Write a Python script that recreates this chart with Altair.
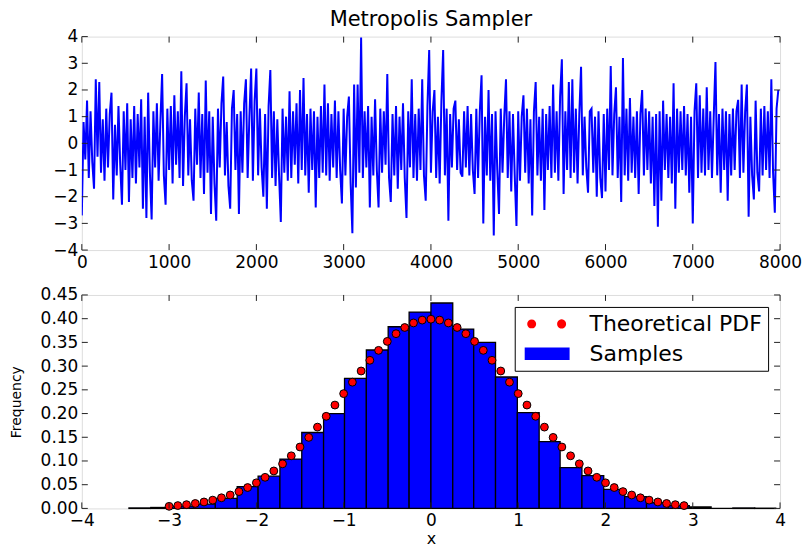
import altair as alt
import pandas as pd

W, H = 700, 214
FONT = "DejaVu Sans"

# ---------------- data ----------------
# Metropolis trace, one value read every 20 iterations
trace_step = 20
trace_values = [
    -2.7, 0.8, -0.6, 1.6, -1.3, 1.2, -0.7, -1.7, 2.4, -0.5,
    2.3, -1.1, 0.9, -1.4, 1.3, -0.9, 1.1, 1.9, -2.1, 0.7,
    -1.2, 1.4, -0.8, -2.3, 1.2, -1.0, 1.5, -2.2, 0.9, -1.3,
    1.4, -1.5, 1.1, -0.9, 1.65, -2.45, 1.0, -2.8, 1.9, -1.1,
    -2.85, 1.2, -0.9, 1.5, -1.4, 0.8, 2.6, -1.2, -2.3, 1.3,
    -1.0, 1.4, -1.5, 1.8, -0.8, 1.2, -1.3, 2.7, -1.6, 1.0,
    2.25, -1.2, 0.9, -1.4, -2.15, 1.3, -0.8, 1.9, -1.3, 1.1,
    -1.9, 2.35, -1.1, 1.2, -2.65, 1.0, -1.5, -2.9, 1.3, -0.9,
    1.5, 2.5, -1.2, 0.8, -1.6, -2.45, 1.3, 2.0, -1.0, 1.1,
    -2.65, 1.2, -1.1, 1.5, 2.4, -1.3, 1.0, 2.8, -1.4, 1.6,
    2.8, -1.2, 1.3, -0.9, -2.0, 1.1, -2.45, 1.4, 2.75, -1.3,
    1.2, -1.6, 0.9, -1.2, -2.95, 1.3, -1.1, 1.0, -1.4, 1.95,
    -1.3, 1.2, -0.8, 1.5, -1.5, 2.0, -1.0, 2.45, -1.2, 1.1,
    -1.85, 1.3, -1.0, 1.2, -2.4, 1.0, -1.3, 1.4, -1.1, 2.2,
    -1.2, 1.5, -1.4, 1.1, -0.9, 1.6, -1.3, 1.2, -1.0, -2.25,
    1.3, -1.2, 1.0, 1.75, -1.5, -3.37, 2.2, -1.65, 2.2, -1.1,
    3.97, -1.3, 1.2, -0.9, 1.4, -2.4, 1.0, -1.2, 1.65, -1.0,
    -2.4, 1.3, -1.1, 1.2, -0.8, 2.6, -1.3, -2.2, 1.1, -1.2,
    1.4, -1.7, 1.0, -1.0, 1.5, -1.3, -2.8, 1.2, -0.9, 2.4,
    -1.3, 1.1, -1.4, 1.3, -1.0, 2.4, -1.2, -2.15, 1.4, 3.5,
    -1.1, 1.2, 2.0, -1.3, 1.0, -1.5, 1.6, 3.5, -1.2, 1.3,
    -2.9, 1.1, -0.9, 1.3, 1.6, -1.0, 0.9, -1.1, -1.25, 1.2,
    -0.9, 1.4, -1.2, 1.1, -1.0, -1.9, 1.3, -1.3, 1.2, 2.55,
    -3.0, 1.0, -1.2, 2.0, -1.4, 1.1, -3.45, 1.2, -1.0, -2.65,
    1.3, -1.1, 1.0, 2.4, -1.3, 1.2, -1.8, 1.1, -1.2, -3.1,
    1.2, -1.4, 1.0, 1.8, -1.1, 1.3, -1.5, 0.9, -2.7, 1.2,
    2.3, -1.2, 1.0, -1.4, 1.3, -2.5, 1.1, -1.0, 1.4, -1.3,
    2.2, -1.1, 1.2, -1.4, 1.75, 3.15, -1.9, 1.2, -1.0, 2.3,
    -1.3, 2.4, -1.1, 1.3, -1.5, 1.1, 2.87, -1.2, 1.0, -0.9,
    -1.85, 1.2, 1.3, -1.1, 1.0, -2.0, 1.2, -1.3, -2.05, 1.1,
    -1.8, 1.3, -1.0, 2.9, -1.2, 1.1, 2.1, -1.3, 1.0, -2.2,
    3.2, -1.2, 1.3, -1.4, 1.7, -1.1, 1.0, -1.3, 1.2, -1.9,
    1.1, 2.0, -1.2, 1.3, -1.0, 1.2, -1.5, 1.0, -2.35, 1.1,
    -3.13, 1.2, -2.15, 1.6, -1.0, 1.1, -1.3, 1.0, -1.5, 2.25,
    -2.45, 1.3, -1.1, 1.2, -1.0, 1.4, -1.2, 1.1, -1.85, 1.0,
    -3.0, 1.2, 2.25, -1.3, 1.8, -1.1, 1.3, -1.2, 2.1, -1.0,
    1.2, -1.3, 1.0, 3.05, -1.2, 1.1, -1.85, 1.3, -1.0, 1.2,
    -2.15, 1.1, -1.2, 1.3, -1.0, 1.2, 1.63, -1.3, 2.2, -1.1,
    1.2, 2.2, -2.75, 1.0, -1.2, -2.1, 1.6, -1.1, -1.8, 1.3,
    -1.2, 1.4, -1.0, 1.2, -1.3, 2.4, -1.1, -2.6, 1.3, 2.0,
]
trace_x_ticks = [0, 1000, 2000, 3000, 4000, 5000, 6000, 7000, 8000]
trace_y_ticks = [-4, -3, -2, -1, 0, 1, 2, 3, 4]

# histogram (density) of the samples
bin_edges = [-3.46, -3.21, -2.96, -2.72, -2.47, -2.22, -1.98, -1.73, -1.48, -1.23,
             -0.99, -0.74, -0.49, -0.25, 0.00, 0.25, 0.49, 0.74, 0.99, 1.24,
             1.48, 1.73, 1.98, 2.22, 2.47, 2.72, 2.96, 3.21, 3.46, 3.71, 3.95]
bin_density = [0.001, 0.002, 0.005, 0.009, 0.021, 0.046, 0.068, 0.104, 0.160, 0.200,
               0.274, 0.334, 0.383, 0.414, 0.433, 0.378, 0.350, 0.277, 0.202, 0.141,
               0.086, 0.069, 0.040, 0.025, 0.012, 0.006, 0.003, 0.000, 0.001, 0.0005]

# theoretical pdf dots
pdf_x = [-3.0, -2.9, -2.8, -2.7, -2.6, -2.5, -2.4, -2.3, -2.2, -2.1,
         -2.0, -1.9, -1.8, -1.7, -1.6, -1.5, -1.4, -1.3, -1.2, -1.1,
         -1.0, -0.9, -0.8, -0.7, -0.6, -0.5, -0.4, -0.3, -0.2, -0.1,
         0.0, 0.1, 0.2, 0.3, 0.4, 0.5, 0.6, 0.7, 0.8, 0.9,
         1.0, 1.1, 1.2, 1.3, 1.4, 1.5, 1.6, 1.7, 1.8, 1.9,
         2.0, 2.1, 2.2, 2.3, 2.4, 2.5, 2.6, 2.7, 2.8, 2.9]
pdf_y = [0.0044, 0.0060, 0.0079, 0.0104, 0.0136, 0.0175, 0.0224, 0.0283, 0.0355, 0.0440,
         0.0540, 0.0656, 0.0790, 0.0940, 0.1109, 0.1295, 0.1497, 0.1714, 0.1942, 0.2179,
         0.2420, 0.2661, 0.2897, 0.3123, 0.3332, 0.3521, 0.3683, 0.3814, 0.3910, 0.3970,
         0.3989, 0.3970, 0.3910, 0.3814, 0.3683, 0.3521, 0.3332, 0.3123, 0.2897, 0.2661,
         0.2420, 0.2179, 0.1942, 0.1714, 0.1497, 0.1295, 0.1109, 0.0940, 0.0790, 0.0656,
         0.0540, 0.0440, 0.0355, 0.0283, 0.0224, 0.0175, 0.0136, 0.0104, 0.0079, 0.0060]
hist_x_ticks = [-4, -3, -2, -1, 0, 1, 2, 3, 4]
hist_y_ticks = [0.0, 0.05, 0.10, 0.15, 0.20, 0.25, 0.30, 0.35, 0.40, 0.45]
legend_labels = ["Theoretical PDF", "Samples"]

# ---------------- tables ----------------
trace_df = pd.DataFrame({"it": [i * trace_step for i in range(len(trace_values))],
                         "val": trace_values})
hist_df = pd.DataFrame({"x": bin_edges[:-1], "x2": bin_edges[1:], "y": bin_density})
pdf_df = pd.DataFrame({"x": pdf_x, "y": pdf_y})
legend_df = pd.DataFrame({"label": legend_labels})

TICK_COLOR = "#222222"
LBL = 17


def make_axis(values, fmt, title=None, title_size=16, title_pad=0):
    kw = dict(values=values, format=fmt, ticks=False, tickSize=0, domain=False, grid=False,
              labelFont=FONT, labelFontSize=LBL, labelColor="black",
              labelPadding=4, labelFlush=False, labelOverlap=False)
    if title is None:
        kw["title"] = None
    else:
        kw.update(title=title, titleFont=FONT, titleFontSize=title_size,
                  titleFontWeight="normal", titleColor="black", titlePadding=title_pad)
    return alt.Axis(**kw)


def inward_ticks(xfield, xticks, xscale, xaxis, yfield, yticks, yscale, yaxis):
    xdf = pd.DataFrame({xfield: xticks})
    ydf = pd.DataFrame({yfield: yticks})
    X = alt.X(f"{xfield}:Q", scale=xscale, axis=xaxis)
    Y = alt.Y(f"{yfield}:Q", scale=yscale, axis=yaxis)
    base = dict(color=TICK_COLOR, strokeWidth=1)
    return [
        alt.Chart(xdf).mark_rule(**base).encode(x=X, y=alt.value(H - 6), y2=alt.value(H)),
        alt.Chart(xdf).mark_rule(**base).encode(x=X, y=alt.value(0), y2=alt.value(6)),
        alt.Chart(ydf).mark_rule(**base).encode(y=Y, x=alt.value(0), x2=alt.value(6)),
        alt.Chart(ydf).mark_rule(**base).encode(y=Y, x=alt.value(W - 6), x2=alt.value(W)),
    ]


# ---------------- top: trace ----------------
tx_scale = alt.Scale(domain=[0, 8000], nice=False, zero=False)
ty_scale = alt.Scale(domain=[-4, 4], nice=False, zero=False)
tx_axis = make_axis(trace_x_ticks, "d")
ty_axis = make_axis(trace_y_ticks, "d")

trace_line = alt.Chart(trace_df).mark_line(color="#0000ff", strokeWidth=2.0, clip=True).encode(
    x=alt.X("it:Q", scale=tx_scale, axis=tx_axis),
    y=alt.Y("val:Q", scale=ty_scale, axis=ty_axis),
)
top = alt.layer(
    trace_line,
    *inward_ticks("it", trace_x_ticks, tx_scale, tx_axis, "val", trace_y_ticks, ty_scale, ty_axis),
).properties(
    width=W, height=H,
    title=alt.Title("Metropolis Sampler", font=FONT, fontSize=21, fontWeight="normal",
                    color="black", offset=-2.5, anchor="middle", frame="group"),
)

# ---------------- bottom: histogram ----------------
hx_scale = alt.Scale(domain=[-4, 4], nice=False, zero=False)
hy_scale = alt.Scale(domain=[0, 0.45], nice=False, zero=False)
hx_axis = make_axis(hist_x_ticks, "d", title="x", title_size=16, title_pad=2)
hy_axis = make_axis(hist_y_ticks, ".2f", title="Frequency", title_size=14, title_pad=17)

bars = alt.Chart(hist_df).mark_bar(color="#0000ff", stroke="black", strokeWidth=1.3,
                                   opacity=1).encode(
    x=alt.X("x:Q", scale=hx_scale, axis=hx_axis),
    x2="x2:Q",
    y=alt.Y("y:Q", scale=hy_scale, axis=hy_axis),
    y2=alt.Y2Datum(0),
)
dots = alt.Chart(pdf_df).mark_point(shape="circle", filled=True, color="#ff0000",
                                    stroke="black", strokeWidth=1, size=62,
                                    opacity=1).encode(
    x=alt.X("x:Q", scale=hx_scale, axis=hx_axis),
    y=alt.Y("y:Q", scale=hy_scale, axis=hy_axis),
)

two_dots = ("M1.286,0 A1.286,1.286 0 1,0 -1.286,0 A1.286,1.286 0 1,0 1.286,0 Z "
            "M9.857,0 A1.286,1.286 0 1,0 7.286,0 A1.286,1.286 0 1,0 9.857,0 Z")
wide_rect = "M-2,-1.8 H10.86 V1.8 H-2 Z"

leg = alt.Legend(title=None, orient="top-right", offset=12, padding=6,
                 strokeColor="black", fillColor="white", cornerRadius=0,
                 labelFont=FONT, labelFontSize=22, labelColor="black", labelOffset=47,
                 symbolSize=49, symbolStrokeColor="black", symbolStrokeWidth=1,
                 symbolOpacity=1, rowPadding=8, labelLimit=400)
legend_layer = alt.Chart(legend_df).mark_point(filled=True, opacity=0, stroke="black",
                                               strokeWidth=1).encode(
    color=alt.Color("label:N", scale=alt.Scale(domain=legend_labels,
                                               range=["#ff0000", "#0000ff"]), legend=leg),
    shape=alt.Shape("label:N", scale=alt.Scale(domain=legend_labels,
                                               range=[two_dots, wide_rect]), legend=leg),
)

bottom = alt.layer(
    bars, dots, legend_layer,
    *inward_ticks("x", hist_x_ticks, hx_scale, hx_axis, "y", hist_y_ticks, hy_scale, hy_axis),
).properties(width=W, height=H)

chart = alt.vconcat(top, bottom, spacing=14).resolve_scale(
    color="independent", shape="independent"
).properties(
    padding={"left": 0, "top": 0, "right": 0, "bottom": 0}
).configure_view(
    stroke="black", strokeWidth=1.4
).configure(background="white")

chart.save("out.html", embed_options={"renderer": "svg", "actions": False})
